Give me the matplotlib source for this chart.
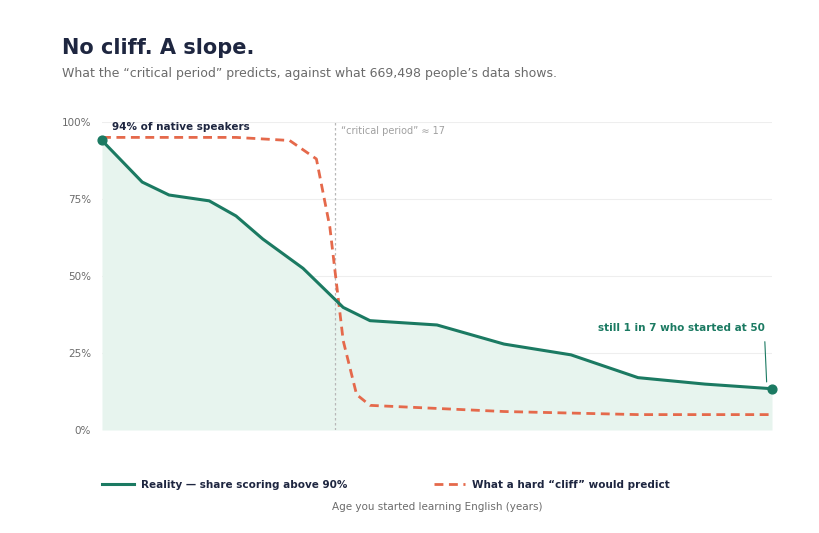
import matplotlib
matplotlib.use("Agg")
import matplotlib.pyplot as plt
from matplotlib.lines import Line2D

# data
reality_age = [0, 3, 5, 8, 10, 12, 15, 18, 20, 25, 30, 35, 40, 45, 50]
reality_pct = [94, 80.5, 76.3, 74.4, 69.5, 62, 52.5, 39.8, 35.5, 34.1, 27.9, 24.4, 17, 14.9, 13.4]

cliff_age = [0, 5, 10, 14, 16, 17, 18, 19, 20, 25, 30, 35, 40, 45, 50]
cliff_pct = [95, 95, 95, 94, 88, 66, 29, 11.5, 8, 7, 6, 5.5, 5, 5, 5]

critical_age = 17.4
y_ticks = [0, 25, 50, 75, 100]
y_tick_labels = ["0%", "25%", "50%", "75%", "100%"]

GREEN = "#1b7a62"
RED = "#e5694b"
FILL = "#e7f4ee"
NAVY = "#1e2640"
GREY = "#6b6b6b"

fig = plt.figure(figsize=(8.2, 5.33), dpi=100)
ax = fig.add_axes([102 / 820, 1 - 430 / 533, (772 - 102) / 820, (430 - 122) / 533])

ax.fill_between(reality_age, reality_pct, 0, color=FILL, zorder=1, linewidth=0)
ax.plot(cliff_age, cliff_pct, color=RED, lw=2, ls=(0, (3.2, 2)), zorder=3)
ax.plot(reality_age, reality_pct, color=GREEN, lw=2.2, zorder=4)
ax.scatter([reality_age[0], reality_age[-1]], [reality_pct[0], reality_pct[-1]],
           s=40, color=GREEN, zorder=5, clip_on=False)

ax.axvline(critical_age, color="#b8b8b8", lw=0.9, ls=(0, (2, 2)), zorder=2)
ax.text(critical_age + 0.45, 97.2, "\u201ccritical period\u201d \u2248 17", fontsize=7,
        color="#a0a0a0", va="center", ha="left")

ax.text(0.75, 98.5, "94% of native speakers", fontsize=7.5, fontweight="bold",
        color=NAVY, va="center", ha="left")
ax.annotate("still 1 in 7 who started at 50", xy=(49.6, 15.6), xytext=(49.5, 33),
            fontsize=7.5, fontweight="bold", color=GREEN, ha="right", va="center",
            arrowprops=dict(arrowstyle="-", color=GREEN, lw=0.8, shrinkA=4, shrinkB=0,
                            relpos=(0.995, 0.0)))

ax.set_xlim(0, 50)
ax.set_ylim(0, 100)
ax.set_yticks(y_ticks)
ax.set_yticklabels(y_tick_labels)
ax.set_xticks([])
ax.tick_params(axis="y", length=0, pad=8, labelsize=7.5, labelcolor=GREY)
ax.grid(axis="y", color="#eeeeee", lw=0.8, zorder=0)
ax.set_axisbelow(True)
for s in ax.spines.values():
    s.set_visible(False)

fig.text(62 / 820, 1 - 48 / 533, "No cliff. A slope.", fontsize=15, fontweight="bold",
         color=NAVY, va="center", ha="left")
fig.text(62 / 820, 1 - 73 / 533,
         "What the \u201ccritical period\u201d predicts, against what 669,498 people\u2019s data shows.",
         fontsize=9, color=GREY, va="center", ha="left")

handles = [Line2D([0], [0], color=GREEN, lw=2.2),
           Line2D([0], [0], color=RED, lw=2, ls=(0, (3.2, 2)))]
labels = ["Reality \u2014 share scoring above 90%", "What a hard \u201ccliff\u201d would predict"]
leg = fig.legend(handles, labels, loc="center left", bbox_to_anchor=(93 / 820, 1 - 485 / 533),
                 ncol=2, frameon=False, handlelength=3.0, handletextpad=0.7, columnspacing=8.3,
                 prop={"size": 7.5, "weight": "bold"})
for t in leg.get_texts():
    t.set_color(NAVY)

fig.text(437 / 820, 1 - 507 / 533, "Age you started learning English (years)",
         fontsize=7.5, color=GREY, ha="center", va="center")

fig.savefig("out.png", dpi=100, facecolor="white")
